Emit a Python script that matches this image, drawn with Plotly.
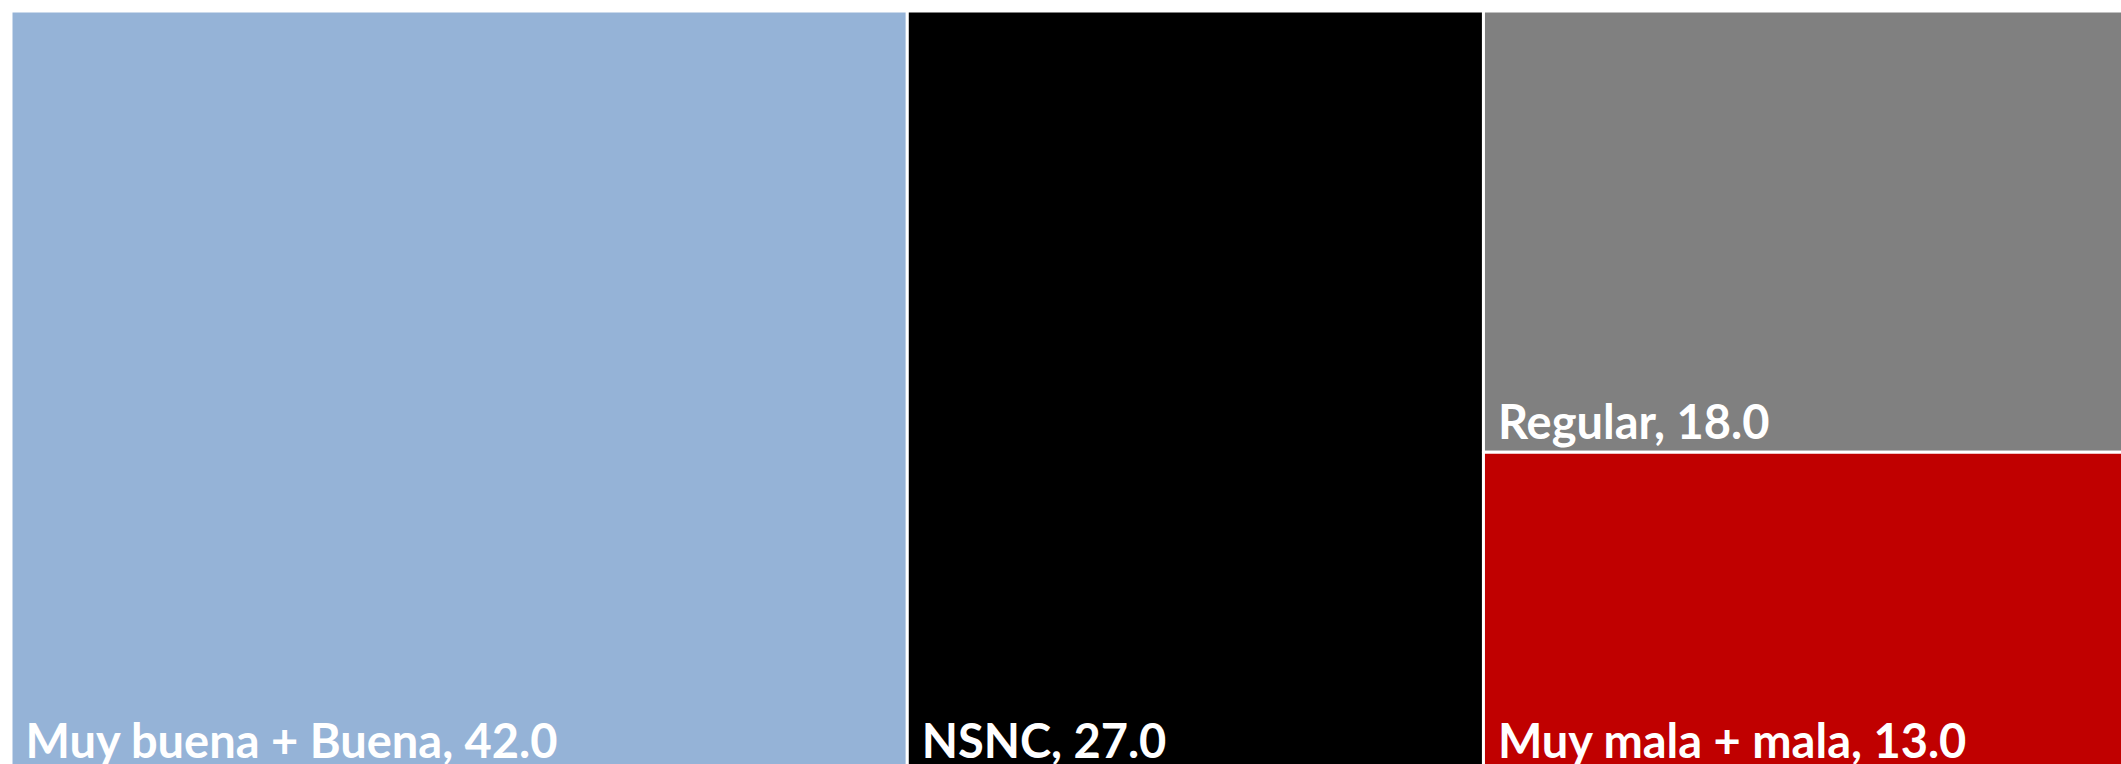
import plotly.graph_objects as go

labels = ["Muy buena + Buena", "NSNC", "Regular", "Muy mala + mala"]
values = [42.0, 27.0, 18.0, 13.0]
colors = ["#95B3D7", "#000000", "#808080", "#C00000"]
parents = ["", "", "", ""]

fig = go.Figure(go.Treemap(
    labels=labels,
    parents=parents,
    values=values,
    sort=False,
    marker=dict(colors=colors, line=dict(width=3, color="white"),
                pad=dict(t=0, l=0, r=0, b=0)),
    tiling=dict(packing="binary", pad=0),
    texttemplate="\u00a0%{label}, %{value:.1f}",
    textposition="bottom left",
    textfont=dict(family="Lato", size=47, color="white", weight="bold"),
    pathbar=dict(visible=False),
    hoverinfo="label+value",
))

fig.update_layout(
    width=2145, height=771,
    margin=dict(l=11, r=0, t=11, b=0),
    paper_bgcolor="white",
    plot_bgcolor="white",
)

fig.write_html(
    "out.html",
    config={"displayModeBar": False},
    post_script="document.body.style.margin='0';document.documentElement.style.overflow='hidden';document.body.style.overflow='hidden';",
)
